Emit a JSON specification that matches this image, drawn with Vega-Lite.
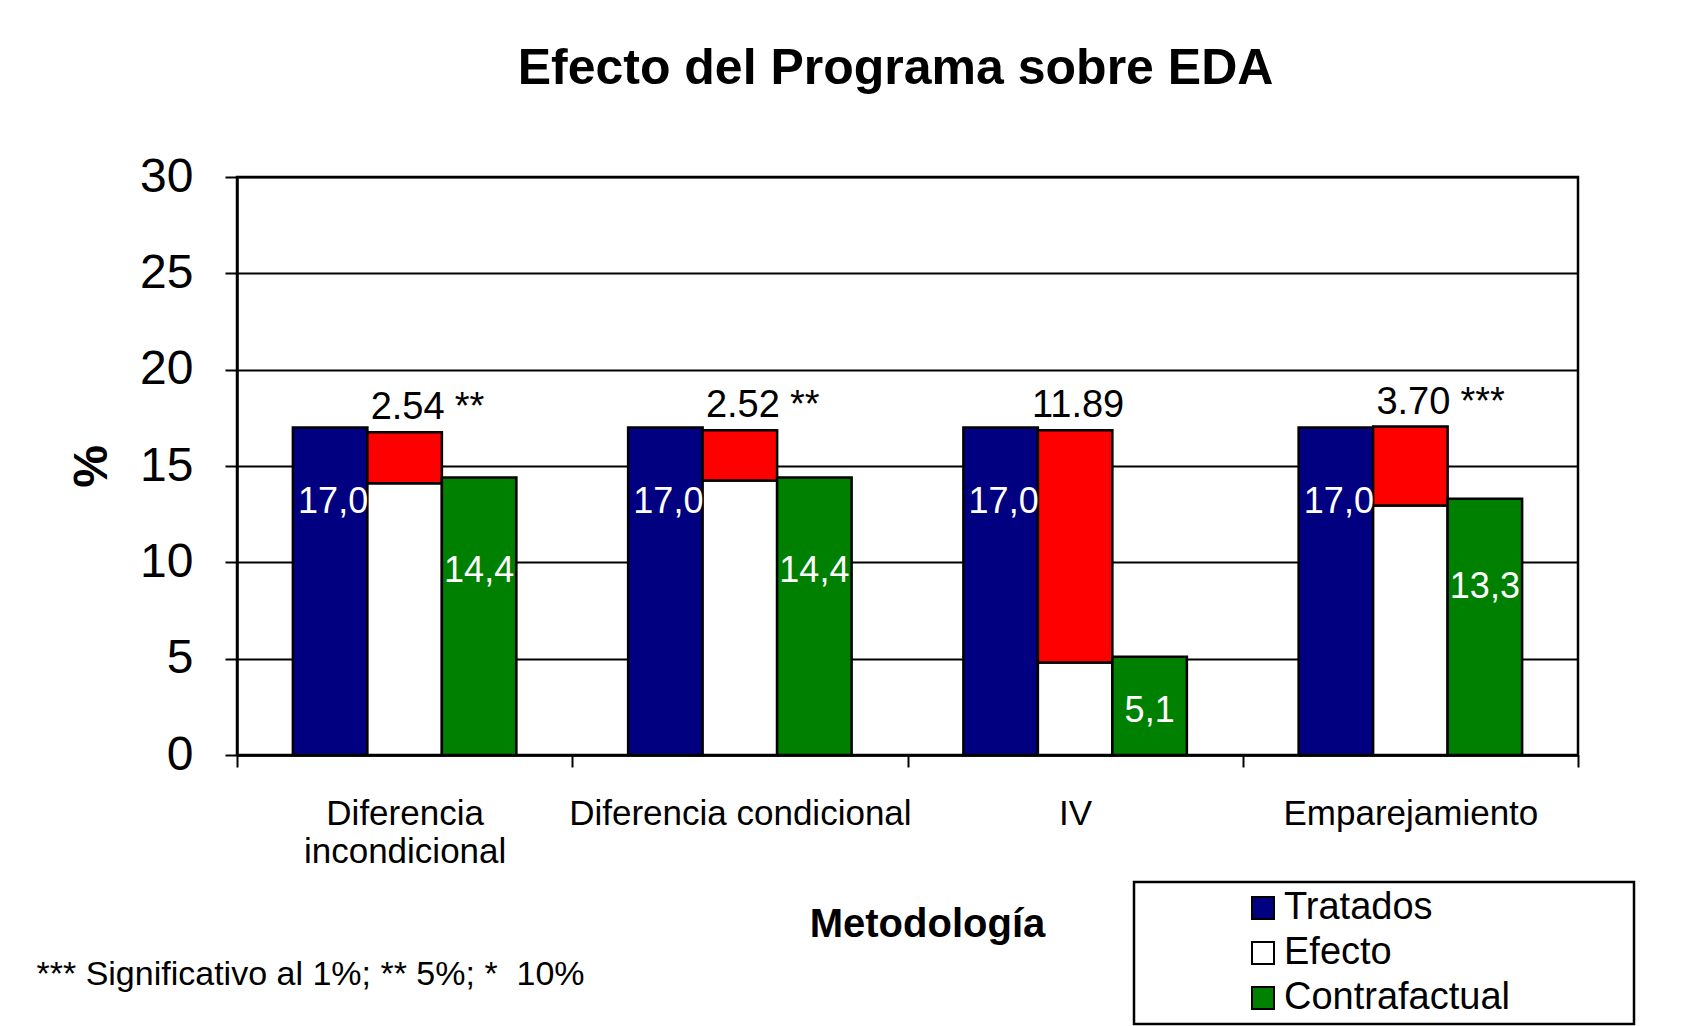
{
  "$schema": "https://vega.github.io/schema/vega-lite/v6.json",
  "width": 1341,
  "height": 578,
  "autosize": {"type": "none"},
  "padding": {"left": 237, "top": 177, "right": 117, "bottom": 271},
  "background": "white",
  "config": {
    "font": "Liberation Sans",
    "view": {"stroke": "black", "strokeWidth": 2.5}
  },
  "title": {
    "text": "Efecto del Programa sobre EDA",
    "fontSize": 50,
    "fontWeight": "bold",
    "font": "Liberation Sans",
    "color": "black",
    "frame": "group",
    "anchor": "middle",
    "baseline": "alphabetic",
    "offset": 19,
    "dx": -12
  },
  "data": {
    "values": [
      {"metodo": "Diferencia incondicional", "barra": "Tratados", "serie": "Tratados", "inicio": 0, "fin": 17.0, "etiqueta": "17,0", "sig": ""},
      {"metodo": "Diferencia incondicional", "barra": "Efecto", "serie": "Efecto", "inicio": 0, "fin": 14.1, "etiqueta": "", "sig": ""},
      {"metodo": "Diferencia incondicional", "barra": "Efecto", "serie": "Diferencia", "inicio": 14.1, "fin": 16.75, "etiqueta": "2.54", "sig": "**"},
      {"metodo": "Diferencia incondicional", "barra": "Contrafactual", "serie": "Contrafactual", "inicio": 0, "fin": 14.4, "etiqueta": "14,4", "sig": ""},
      {"metodo": "Diferencia condicional", "barra": "Tratados", "serie": "Tratados", "inicio": 0, "fin": 17.0, "etiqueta": "17,0", "sig": ""},
      {"metodo": "Diferencia condicional", "barra": "Efecto", "serie": "Efecto", "inicio": 0, "fin": 14.25, "etiqueta": "", "sig": ""},
      {"metodo": "Diferencia condicional", "barra": "Efecto", "serie": "Diferencia", "inicio": 14.25, "fin": 16.85, "etiqueta": "2.52", "sig": "**"},
      {"metodo": "Diferencia condicional", "barra": "Contrafactual", "serie": "Contrafactual", "inicio": 0, "fin": 14.4, "etiqueta": "14,4", "sig": ""},
      {"metodo": "IV", "barra": "Tratados", "serie": "Tratados", "inicio": 0, "fin": 17.0, "etiqueta": "17,0", "sig": ""},
      {"metodo": "IV", "barra": "Efecto", "serie": "Efecto", "inicio": 0, "fin": 4.8, "etiqueta": "", "sig": ""},
      {"metodo": "IV", "barra": "Efecto", "serie": "Diferencia", "inicio": 4.8, "fin": 16.85, "etiqueta": "11.89", "sig": ""},
      {"metodo": "IV", "barra": "Contrafactual", "serie": "Contrafactual", "inicio": 0, "fin": 5.1, "etiqueta": "5,1", "sig": ""},
      {"metodo": "Emparejamiento", "barra": "Tratados", "serie": "Tratados", "inicio": 0, "fin": 17.0, "etiqueta": "17,0", "sig": ""},
      {"metodo": "Emparejamiento", "barra": "Efecto", "serie": "Efecto", "inicio": 0, "fin": 12.95, "etiqueta": "", "sig": ""},
      {"metodo": "Emparejamiento", "barra": "Efecto", "serie": "Diferencia", "inicio": 12.95, "fin": 17.05, "etiqueta": "3.70", "sig": "***"},
      {"metodo": "Emparejamiento", "barra": "Contrafactual", "serie": "Contrafactual", "inicio": 0, "fin": 13.3, "etiqueta": "13,3", "sig": ""}
    ]
  },
  "layer": [
    {
      "encoding": {
        "x": {
          "field": "metodo",
          "type": "nominal",
          "sort": ["Diferencia incondicional", "Diferencia condicional", "IV", "Emparejamiento"],
          "scale": {"paddingInner": 0, "paddingOuter": 0},
          "axis": {
            "title": "Metodología",
            "titleFontSize": 40,
            "titleFontWeight": "bold",
            "titleColor": "black",
            "titleX": 690,
            "titleY": 169,
            "titleAlign": "center",
            "titleBaseline": "middle",
            "labelAngle": 0,
            "labelFontSize": 35,
            "labelColor": "black",
            "labelPadding": 29,
            "labelBaseline": "top",
            "labelLineHeight": 38,
            "labelLimit": 500,
            "labelExpr": "datum.label == 'Diferencia incondicional' ? ['Diferencia', 'incondicional'] : datum.label",
            "tickBand": "extent",
            "tickSize": 12,
            "tickColor": "black",
            "tickWidth": 2,
            "domainColor": "black",
            "domainWidth": 2.5,
            "grid": false
          }
        },
        "xOffset": {
          "field": "barra",
          "type": "nominal",
          "sort": ["Tratados", "Efecto", "Contrafactual"],
          "scale": {"paddingInner": 0, "paddingOuter": 0.75}
        },
        "y": {
          "field": "fin",
          "type": "quantitative",
          "scale": {"domain": [0, 30], "nice": false},
          "axis": {
            "title": "%",
            "titleFontSize": 48,
            "titleFontWeight": "bold",
            "titleColor": "black",
            "titlePadding": 23,
            "values": [0, 5, 10, 15, 20, 25, 30],
            "labelFontSize": 48,
            "labelColor": "black",
            "labelPadding": 32,
            "tickSize": 12,
            "tickColor": "black",
            "tickWidth": 2,
            "domainColor": "black",
            "domainWidth": 2.5,
            "grid": true,
            "gridColor": "black",
            "gridWidth": 2,
            "gridOpacity": 1
          }
        }
      },
      "layer": [
        {
          "mark": {"type": "bar", "stroke": "black", "strokeWidth": 2.5},
          "encoding": {
            "y2": {"field": "inicio"},
            "fill": {
              "field": "serie",
              "type": "nominal",
              "scale": {
                "domain": ["Tratados", "Efecto", "Contrafactual", "Diferencia"],
                "range": ["#000080", "#FFFFFF", "#008000", "#FF0000"]
              },
              "legend": {
                "values": ["Tratados", "Efecto", "Contrafactual"],
                "orient": "none",
                "legendX": 897,
                "legendY": 705,
                "direction": "vertical",
                "title": "\u200b\u00a0\u00a0\u00a0\u00a0\u00a0\u00a0\u00a0\u00a0\u00a0\u00a0\u200b",
                "titleOrient": "left",
                "titleFontSize": 36,
                "titleColor": "white",
                "titlePadding": 2,
                "padding": 7,
                "strokeColor": "black",
                "fillColor": "white",
                "symbolType": "square",
                "symbolSize": 484,
                "symbolStrokeColor": "black",
                "symbolStrokeWidth": 2,
                "symbolOpacity": 1,
                "labelFontSize": 38,
                "labelColor": "black",
                "labelOffset": 2,
                "rowPadding": 7,
                "labelLimit": 600,
                "labelExpr": "datum.label == 'Contrafactual' ? 'Contrafactual\u00a0\u00a0\u00a0\u00a0\u00a0\u00a0\u00a0\u00a0\u00a0\u00a0\u00a0\u200b' : datum.label",
                "encode": {
                  "legend": {"update": {"strokeWidth": {"value": 2.5}}}
                }
              }
            }
          }
        },
        {
          "transform": [{"filter": "datum.serie == 'Diferencia'"}],
          "mark": {"type": "text", "fontSize": 38, "color": "black", "baseline": "middle", "align": "center", "dx": 3, "dy": -24},
          "encoding": {"text": {"field": "etiqueta"}}
        },
        {
          "transform": [{"filter": "datum.serie == 'Diferencia'"}],
          "mark": {"type": "text", "fontSize": 38, "color": "black", "baseline": "middle", "align": "left", "dx": 50, "dy": -24},
          "encoding": {"text": {"field": "sig"}}
        },
        {
          "transform": [{"filter": "datum.serie == 'Tratados'"}],
          "mark": {"type": "text", "fontSize": 36, "color": "white", "baseline": "middle", "align": "center", "dx": 3, "dy": 75},
          "encoding": {"text": {"field": "etiqueta"}}
        }
      ]
    },
    {
      "transform": [{"filter": "datum.serie == 'Contrafactual'"}],
      "mark": {"type": "text", "fontSize": 36, "color": "white", "baseline": "middle", "align": "center"},
      "encoding": {
        "x": {
          "field": "metodo",
          "type": "nominal",
          "sort": ["Diferencia incondicional", "Diferencia condicional", "IV", "Emparejamiento"],
          "axis": {
            "orient": "bottom",
            "title": "*** Significativo al 1%; ** 5%; *\u00a0 10%",
            "titleFontSize": 34,
            "titleFontWeight": "normal",
            "titleColor": "black",
            "titleX": -201,
            "titleY": 219,
            "titleAlign": "left",
            "titleAnchor": null,
            "titleBaseline": "middle",
            "labels": false,
            "ticks": false,
            "domain": false,
            "grid": false
          }
        },
        "xOffset": {
          "field": "barra",
          "type": "nominal",
          "sort": ["Tratados", "Efecto", "Contrafactual"]
        },
        "y": {
          "field": "fin",
          "type": "quantitative",
          "scale": {"domain": [2.16, 40.6], "zero": false, "nice": false},
          "axis": null
        },
        "text": {"field": "etiqueta"}
      }
    }
  ],
  "resolve": {
    "scale": {"y": "independent"},
    "axis": {"x": "independent", "y": "independent"}
  }
}
